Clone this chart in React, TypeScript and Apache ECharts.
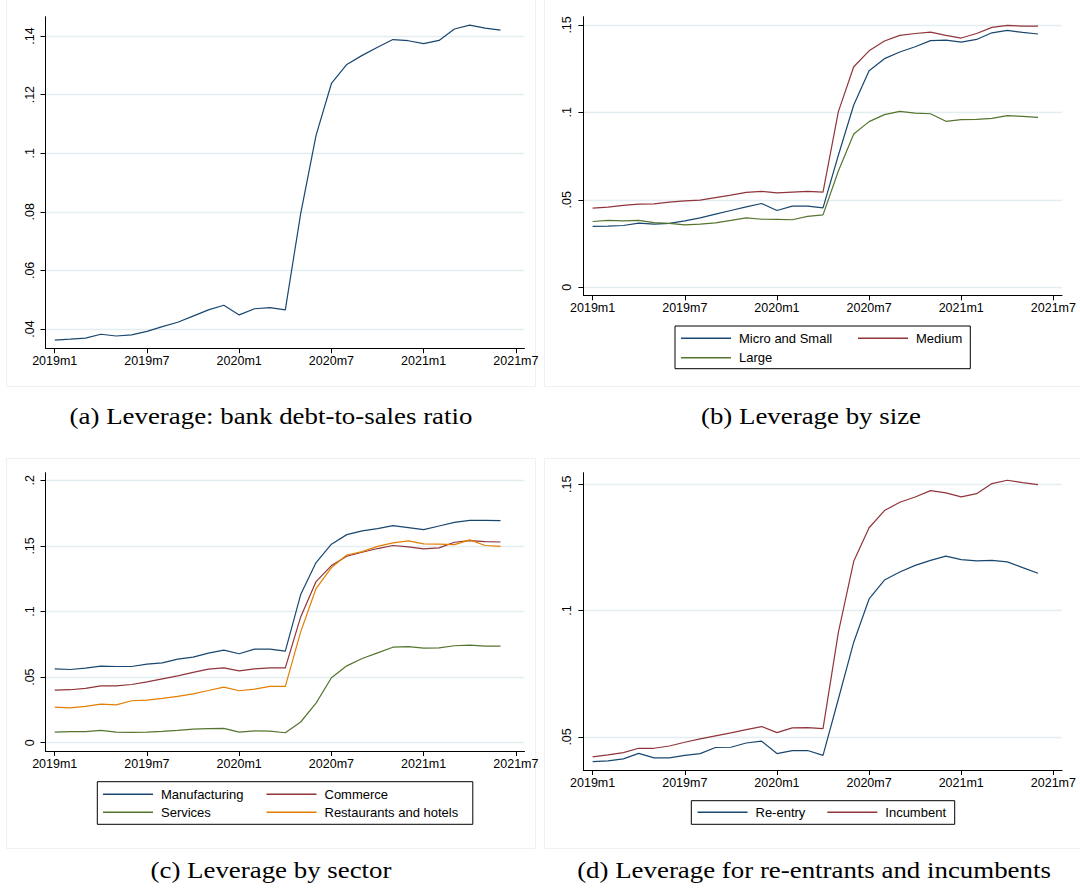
import React, { useEffect, useRef } from 'react';
import * as echarts from 'echarts';

// ---------- data ----------
const months = [
  '2019m1', '2019m2', '2019m3', '2019m4', '2019m5', '2019m6', '2019m7', '2019m8', '2019m9', '2019m10', '2019m11', '2019m12',
  '2020m1', '2020m2', '2020m3', '2020m4', '2020m5', '2020m6', '2020m7', '2020m8', '2020m9', '2020m10', '2020m11', '2020m12',
  '2021m1', '2021m2', '2021m3', '2021m4', '2021m5', '2021m6',
];

const xTickValues = [0, 6, 12, 18, 24, 30];
const xTickLabels = ['2019m1', '2019m7', '2020m1', '2020m7', '2021m1', '2021m7'];

const yTicksA = [0.04, 0.06, 0.08, 0.1, 0.12, 0.14];
const yLabelsA = ['.04', '.06', '.08', '.1', '.12', '.14'];
const yTicksB = [0, 0.05, 0.1, 0.15];
const yLabelsB = ['0', '.05', '.1', '.15'];
const yTicksC = [0, 0.05, 0.1, 0.15, 0.2];
const yLabelsC = ['0', '.05', '.1', '.15', '.2'];
const yTicksD = [0.05, 0.1, 0.15];
const yLabelsD = ['.05', '.1', '.15'];

// (a) Leverage: bank debt-to-sales ratio
const leverageAll = [0.0362, 0.0365, 0.0369, 0.0382, 0.0376, 0.0380, 0.0392, 0.0408, 0.0423, 0.0444, 0.0465, 0.0481, 0.0448, 0.0469, 0.0473, 0.0465, 0.0794, 0.1061, 0.1238, 0.1303, 0.1334, 0.1362, 0.1388, 0.1384, 0.1374, 0.1385, 0.1424, 0.1437, 0.1427, 0.1420];

// (b) by size
const microSmall = [0.0348, 0.0349, 0.0353, 0.0367, 0.0361, 0.0365, 0.0380, 0.0397, 0.0418, 0.0439, 0.0460, 0.0479, 0.0439, 0.0464, 0.0464, 0.0454, 0.0755, 0.1042, 0.1238, 0.1307, 0.1345, 0.1375, 0.1410, 0.1413, 0.1402, 0.1417, 0.1455, 0.1469, 0.1457, 0.1448];
const medium = [0.0452, 0.0458, 0.0468, 0.0475, 0.0477, 0.0487, 0.0494, 0.0498, 0.0513, 0.0527, 0.0542, 0.0548, 0.0540, 0.0544, 0.0548, 0.0544, 0.1004, 0.1261, 0.1352, 0.1408, 0.1440, 0.1451, 0.1459, 0.1440, 0.1425, 0.1451, 0.1486, 0.1497, 0.1493, 0.1493];
const large = [0.0376, 0.0382, 0.0380, 0.0382, 0.0370, 0.0365, 0.0357, 0.0361, 0.0368, 0.0382, 0.0397, 0.0389, 0.0388, 0.0386, 0.0405, 0.0414, 0.0665, 0.0876, 0.0947, 0.0987, 0.1006, 0.0996, 0.0992, 0.0949, 0.0958, 0.0960, 0.0966, 0.0981, 0.0977, 0.0971];

// (c) by sector
const manufacturing = [0.0563, 0.0558, 0.0569, 0.0584, 0.0581, 0.0581, 0.0599, 0.0609, 0.0637, 0.0652, 0.0683, 0.0706, 0.0678, 0.0713, 0.0713, 0.0698, 0.1129, 0.1373, 0.1513, 0.1586, 0.1614, 0.1632, 0.1655, 0.1640, 0.1624, 0.1652, 0.1680, 0.1695, 0.1695, 0.1693];
const commerce = [0.0401, 0.0404, 0.0414, 0.0434, 0.0434, 0.0444, 0.0464, 0.0487, 0.0510, 0.0536, 0.0561, 0.0571, 0.0548, 0.0563, 0.0571, 0.0571, 0.0959, 0.1228, 0.1350, 0.1421, 0.1452, 0.1480, 0.1503, 0.1492, 0.1477, 0.1485, 0.1528, 0.1541, 0.1533, 0.1530];
const services = [0.0081, 0.0084, 0.0084, 0.0094, 0.0081, 0.0079, 0.0081, 0.0086, 0.0094, 0.0104, 0.0107, 0.0109, 0.0081, 0.0091, 0.0089, 0.0076, 0.0158, 0.0302, 0.0495, 0.0586, 0.0642, 0.0685, 0.0728, 0.0733, 0.0721, 0.0723, 0.0739, 0.0744, 0.0736, 0.0736];
const restaurants = [0.0272, 0.0266, 0.0277, 0.0294, 0.0289, 0.0320, 0.0325, 0.0338, 0.0353, 0.0373, 0.0398, 0.0424, 0.0396, 0.0409, 0.0429, 0.0429, 0.0845, 0.1175, 0.1335, 0.1431, 0.1457, 0.1497, 0.1523, 0.1538, 0.1515, 0.1513, 0.1510, 0.1546, 0.1503, 0.1497];

// (d) re-entrants and incumbents
const reentry = [0.0402, 0.0405, 0.0413, 0.0435, 0.0417, 0.0417, 0.0427, 0.0434, 0.0458, 0.0459, 0.0476, 0.0483, 0.0434, 0.0446, 0.0446, 0.0427, 0.0650, 0.0875, 0.1046, 0.1121, 0.1153, 0.1179, 0.1199, 0.1216, 0.1202, 0.1197, 0.1199, 0.1193, 0.1170, 0.1148];
const incumbent = [0.0421, 0.0429, 0.0438, 0.0455, 0.0455, 0.0464, 0.0479, 0.0492, 0.0504, 0.0516, 0.0529, 0.0541, 0.0517, 0.0536, 0.0537, 0.0533, 0.0914, 0.1195, 0.1328, 0.1396, 0.1429, 0.1450, 0.1475, 0.1466, 0.1450, 0.1463, 0.1503, 0.1516, 0.1507, 0.1499];

const captions = [
  '(a) Leverage: bank debt-to-sales ratio',
  '(b) Leverage by size',
  '(c) Leverage by sector',
  '(d) Leverage for re-entrants and incumbents',
];

// ---------- styling ----------
const NAVY = '#1a476f';
const MAROON = '#90353b';
const GREEN = '#55752f';
const ORANGE = '#e37e00';
const GRID_COLOR = '#e4edf0';
const SANS = 'Liberation Sans';
const SERIF = 'Liberation Serif';

const X_MIN = -0.6;
const X_MAX = 30.56;

function lookup(ticks: number[], labels: string[]) {
  return (v: number) => {
    const i = ticks.findIndex((t) => Math.abs(t - v) < 1e-9);
    return i >= 0 ? labels[i] : '';
  };
}

function xAxis(gridIndex: number) {
  return {
    gridIndex,
    type: 'value',
    min: X_MIN,
    max: X_MAX,
    axisLine: { show: true, onZero: false, lineStyle: { color: '#000', width: 1 } },
    axisTick: { show: true, customValues: xTickValues, length: 5, lineStyle: { color: '#000', width: 1 } },
    axisLabel: {
      customValues: xTickValues,
      formatter: lookup(xTickValues, xTickLabels),
      margin: 6,
      fontSize: 12.5,
      color: '#000',
      fontFamily: SANS,
    },
    splitLine: { show: false },
  };
}

function yAxis(gridIndex: number, min: number, max: number, ticks: number[], labels: string[]) {
  return {
    gridIndex,
    type: 'value',
    min,
    max,
    axisLine: { show: true, onZero: false, lineStyle: { color: '#000', width: 1 } },
    axisTick: { show: true, customValues: ticks, length: 5, lineStyle: { color: '#000', width: 1 } },
    axisLabel: {
      customValues: ticks,
      formatter: lookup(ticks, labels),
      rotate: 90,
      margin: 9.5,
      fontSize: 12.5,
      color: '#000',
      fontFamily: SANS,
    },
    splitLine: { show: true, lineStyle: { color: GRID_COLOR, width: 1.3 } },
  };
}

function lineSeries(name: string, values: number[], color: string, idx: number) {
  return {
    name,
    type: 'line',
    xAxisIndex: idx,
    yAxisIndex: idx,
    data: months.map((_, i) => [i, values[i]]),
    symbol: 'none',
    color,
    lineStyle: { color, width: 1.2 },
    itemStyle: { color },
    silent: true,
  };
}

function legendItem(name: string, left: number, centerY: number) {
  return {
    data: [name],
    left,
    top: centerY - 6.5,
    padding: 0,
    icon: 'rect',
    itemWidth: 50,
    itemHeight: 1.4,
    selectedMode: false,
    textStyle: { fontSize: 13, color: '#000', fontFamily: SANS, padding: [0, 0, 0, 3] },
  };
}

export default function App() {
  const ref = useRef<HTMLDivElement>(null);

  useEffect(() => {
    if (!ref.current) return;
    const chart = echarts.init(ref.current, null, { renderer: 'svg' });

    const box = (x1: number, y1: number, x2: number, y2: number) => ({
      type: 'rect',
      shape: { x: x1, y: y1, width: x2 - x1, height: y2 - y1 },
      style: { fill: 'none', stroke: '#000', lineWidth: 1 },
      silent: true,
    });
    const frame = (x1: number, y1: number, x2: number, y2: number) => ({
      type: 'rect',
      shape: { x: x1, y: y1, width: x2 - x1, height: y2 - y1 },
      style: { fill: 'none', stroke: '#eef1f3', lineWidth: 1 },
      silent: true,
      z: -1,
    });
    const caption = (text: string, x: number, y: number) => ({
      type: 'text',
      x,
      y,
      scaleX: 1.12,
      style: {
        text,
        fill: '#000',
        fontSize: 24,
        fontFamily: SERIF,
        align: 'center',
        verticalAlign: 'middle',
      },
      silent: true,
    });

    chart.setOption({
      animation: false,
      backgroundColor: '#fff',
      grid: [
        { left: 45.5, top: 16.7, width: 479, height: 331.6 },
        { left: 583.4, top: 16.7, width: 478.6, height: 278.6 },
        { left: 45.5, top: 472.7, width: 479, height: 278.3 },
        { left: 583.4, top: 472.7, width: 478.6, height: 297.3 },
      ],
      xAxis: [xAxis(0), xAxis(1), xAxis(2), xAxis(3)],
      yAxis: [
        yAxis(0, 0.0334, 0.1466, yTicksA, yLabelsA),
        yAxis(1, -0.0046, 0.1547, yTicksB, yLabelsB),
        yAxis(2, -0.0063, 0.2058, yTicksC, yLabelsC),
        yAxis(3, 0.0369, 0.1546, yTicksD, yLabelsD),
      ],
      legend: [
        legendItem('Micro and Small', 681, 338.3),
        legendItem('Medium', 858, 338.3),
        legendItem('Large', 681, 357.7),
        legendItem('Manufacturing', 103, 794.3),
        legendItem('Commerce', 266.5, 794.3),
        legendItem('Services', 103, 812.3),
        legendItem('Restaurants and hotels', 266.5, 812.3),
        legendItem('Re-entry', 697.5, 812.3),
        legendItem('Incumbent', 827.3, 812.3),
      ],
      series: [
        lineSeries('Leverage', leverageAll, NAVY, 0),
        lineSeries('Micro and Small', microSmall, NAVY, 1),
        lineSeries('Medium', medium, MAROON, 1),
        lineSeries('Large', large, GREEN, 1),
        lineSeries('Manufacturing', manufacturing, NAVY, 2),
        lineSeries('Commerce', commerce, MAROON, 2),
        lineSeries('Services', services, GREEN, 2),
        lineSeries('Restaurants and hotels', restaurants, ORANGE, 2),
        lineSeries('Re-entry', reentry, NAVY, 3),
        lineSeries('Incumbent', incumbent, MAROON, 3),
      ],
      graphic: [
        frame(6.5, -2, 535.5, 386.5),
        frame(544.5, -2, 1090, 386.5),
        frame(6.5, 458.5, 535.5, 848.5),
        frame(544.5, 458.5, 1090, 848.5),
        box(675, 326, 970.3, 368.7),
        box(97.3, 781.7, 472.8, 824.3),
        box(691.3, 800.7, 954.7, 824.3),
        caption(captions[0], 271, 416),
        caption(captions[1], 811, 416),
        caption(captions[2], 271, 870),
        caption(captions[3], 814, 870),
      ],
    });

    return () => chart.dispose();
  }, []);

  return (
    <div
      ref={ref}
      style={{ position: 'absolute', left: 0, top: 0, width: 1080, height: 888, background: '#fff' }}
    />
  );
}
